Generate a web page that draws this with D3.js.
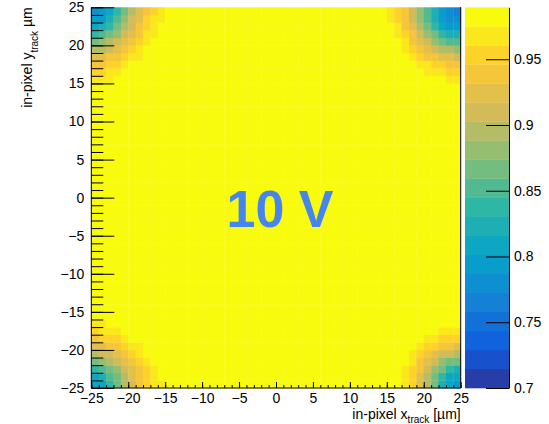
<!DOCTYPE html>
<html>
<head>
<meta charset="utf-8">
<script src="https://cdn.jsdelivr.net/npm/d3@7"></script>
<style>
  body { margin: 0; background: #fff; }
  text { font-family: "Liberation Sans", Arial, Helvetica, sans-serif; }
</style>
</head>
<body>
<svg id="chart" width="549" height="424"></svg>
<script>
// 1 um x 1 um bins over the pixel, 50 x 50
const nBins = 50
const axisTicks = [-25, -20, -15, -10, -5, 0, 5, 10, 15, 20, 25]
const paletteTicks = [0.7, 0.75, 0.8, 0.85, 0.9, 0.95]
const zMin = 0.7
const zMax = 0.9895
const nContours = 20

// efficiency in the flat (yellow) part of the pixel
const flatEff = 0.985

// corners, row 0 = row at the pixel edge, col 0 = column at the pixel edge
const cornerTopLeft = [
  [0.785, 0.790, 0.815, 0.835, 0.870, 0.900, 0.925, 0.945, 0.960, 0.970],
  [0.790, 0.800, 0.820, 0.845, 0.875, 0.905, 0.930, 0.950, 0.965, 0.975],
  [0.810, 0.820, 0.840, 0.860, 0.890, 0.915, 0.935, 0.955, 0.970],
  [0.835, 0.845, 0.860, 0.885, 0.905, 0.925, 0.945, 0.965, 0.975],
  [0.865, 0.875, 0.890, 0.905, 0.920, 0.940, 0.955, 0.970],
  [0.895, 0.900, 0.910, 0.925, 0.940, 0.955, 0.965, 0.980],
  [0.920, 0.925, 0.935, 0.945, 0.955, 0.965, 0.975],
  [0.940, 0.945, 0.950, 0.960, 0.970, 0.978],
  [0.955, 0.960, 0.965, 0.972, 0.980],
  [0.968, 0.970, 0.975]
]
const cornerTopRight = [
  [0.770, 0.775, 0.790, 0.820, 0.850, 0.880, 0.910, 0.935, 0.955, 0.968],
  [0.775, 0.780, 0.795, 0.825, 0.855, 0.885, 0.915, 0.940, 0.958, 0.970],
  [0.790, 0.800, 0.815, 0.840, 0.865, 0.895, 0.920, 0.945, 0.962, 0.978],
  [0.820, 0.825, 0.840, 0.860, 0.885, 0.910, 0.935, 0.955, 0.970],
  [0.850, 0.855, 0.865, 0.885, 0.905, 0.925, 0.945, 0.962, 0.978],
  [0.885, 0.890, 0.900, 0.910, 0.925, 0.940, 0.958, 0.970],
  [0.915, 0.918, 0.925, 0.935, 0.945, 0.958, 0.968, 0.980],
  [0.940, 0.942, 0.948, 0.955, 0.962, 0.970, 0.980],
  [0.958, 0.960, 0.962, 0.968, 0.975],
  [0.970, 0.972, 0.978]
]
const cornerBottomLeft = [
  [0.805, 0.815, 0.840, 0.865, 0.890, 0.915, 0.935, 0.950, 0.965, 0.975],
  [0.815, 0.825, 0.845, 0.870, 0.895, 0.920, 0.940, 0.955, 0.968],
  [0.840, 0.850, 0.865, 0.885, 0.905, 0.925, 0.945, 0.960, 0.975],
  [0.870, 0.875, 0.890, 0.905, 0.920, 0.938, 0.955, 0.968],
  [0.900, 0.905, 0.912, 0.925, 0.938, 0.950, 0.965, 0.978],
  [0.925, 0.928, 0.935, 0.945, 0.955, 0.965, 0.975],
  [0.945, 0.948, 0.952, 0.960, 0.968, 0.978],
  [0.960, 0.962, 0.966, 0.972],
  [0.970, 0.972, 0.978]
]
const cornerBottomRight = [
  [0.795, 0.805, 0.830, 0.860, 0.895, 0.925, 0.950, 0.968],
  [0.805, 0.815, 0.840, 0.870, 0.900, 0.930, 0.952, 0.970],
  [0.830, 0.840, 0.860, 0.885, 0.910, 0.935, 0.958, 0.975],
  [0.865, 0.870, 0.885, 0.905, 0.925, 0.945, 0.965],
  [0.900, 0.905, 0.912, 0.925, 0.940, 0.958, 0.972],
  [0.930, 0.932, 0.938, 0.948, 0.958, 0.970],
  [0.955, 0.957, 0.960, 0.965, 0.972],
  [0.970, 0.972, 0.975]
]

// kBird palette stops (ROOT default)
const birdStops = ["#352a87", "#0f5cdd", "#1481d6", "#06a4ca", "#2eb7a4",
                   "#87bf77", "#d1bb59", "#fec832", "#f9fb0e"]

let svg = d3.select("#chart")

// frame and palette geometry
let frame = {left: 91.3, right: 460.7, top: 7.3, bottom: 388}
let pal = {left: 465, right: 509}

let xscale = d3.scaleLinear().domain([-25, 25]).range([frame.left, frame.right])
let yscale = d3.scaleLinear().domain([-25, 25]).range([frame.bottom, frame.top])
let zscale = d3.scaleLinear().domain([zMin, zMax]).range([frame.bottom, frame.top])

let bird = d3.piecewise(d3.interpolateRgb, birdStops)

// colour of contour band k, same pick as ROOT's THistPainter
function bandColor(k) {
  let idx = Math.floor((k + 0.99) * 255 / nContours)
  return bird(Math.min(idx, 254) / 254)
}
function bandOf(z) {
  let k = Math.floor((z - zMin) * nContours / (zMax - zMin))
  return Math.max(0, Math.min(nContours - 1, k))
}

// build the grid: grid[ix][iy]
let grid = d3.range(nBins).map(() => d3.range(nBins).map(() => flatEff))
cornerTopLeft.forEach((row, i) => row.forEach((v, j) => { grid[j][nBins - 1 - i] = v }))
cornerTopRight.forEach((row, i) => row.forEach((v, j) => { grid[nBins - 1 - j][nBins - 1 - i] = v }))
cornerBottomLeft.forEach((row, i) => row.forEach((v, j) => { grid[j][i] = v }))
cornerBottomRight.forEach((row, i) => row.forEach((v, j) => { grid[nBins - 1 - j][i] = v }))

let cells = []
grid.forEach((col, ix) => col.forEach((z, iy) => {
  cells.push({x0: -25 + ix, y0: -25 + iy, z: z})
}))

//Add the cells
svg.append("g")
  .selectAll("rect")
  .data(cells)
  .enter()
  .append("rect")
  .attr("x", d => xscale(d.x0))
  .attr("y", d => yscale(d.y0 + 1))
  .attr("width", d => xscale(d.x0 + 1) - xscale(d.x0) + 0.4)
  .attr("height", d => yscale(d.y0) - yscale(d.y0 + 1) + 0.4)
  .attr("fill", d => bandColor(bandOf(d.z)))

//Frame lines (no top line)
svg.append("path")
  .attr("d", `M${frame.left},${frame.top}V${frame.bottom}H${frame.right}V${frame.top}`)
  .attr("fill", "none")
  .attr("stroke", "#000")
  .attr("stroke-width", 1)

//Minor ticks y
svg.append("g")
  .attr("transform", `translate(${frame.left},0)`)
  .call(d3.axisLeft(yscale).tickValues(d3.range(-25, 26, 1)).tickSize(-12).tickSizeOuter(0).tickFormat(""))
  .call(g => g.select(".domain").remove())

//Major ticks y with labels
let yAxis = svg.append("g")
  .attr("transform", `translate(${frame.left},0)`)
  .call(d3.axisLeft(yscale).tickValues(axisTicks).tickSize(-23).tickSizeOuter(0).tickPadding(7))
yAxis.select(".domain").remove()
yAxis.selectAll("text").style("font-size", "14px").attr("fill", "#000")
  .style("font-family", "'Liberation Sans', Arial, sans-serif")

//Minor ticks x
svg.append("g")
  .attr("transform", `translate(0,${frame.bottom})`)
  .call(d3.axisBottom(xscale).tickValues(d3.range(-25, 26, 1)).tickSize(-3).tickSizeOuter(0).tickFormat(""))
  .call(g => g.select(".domain").remove())

//Major ticks x with labels
let xAxis = svg.append("g")
  .attr("transform", `translate(0,${frame.bottom})`)
  .call(d3.axisBottom(xscale).tickValues(axisTicks).tickSize(-6).tickSizeOuter(0).tickPadding(5))
xAxis.select(".domain").remove()
xAxis.selectAll("text").style("font-size", "14px").attr("fill", "#000")
  .style("font-family", "'Liberation Sans', Arial, sans-serif")

//Palette bands
let bands = d3.range(nContours).map(k => ({
  lo: zMin + k * (zMax - zMin) / nContours,
  hi: zMin + (k + 1) * (zMax - zMin) / nContours,
  k: k
}))
svg.append("g")
  .selectAll("rect")
  .data(bands)
  .enter()
  .append("rect")
  .attr("x", pal.left)
  .attr("y", d => zscale(d.hi))
  .attr("width", pal.right - pal.left)
  .attr("height", d => zscale(d.lo) - zscale(d.hi) + 0.3)
  .attr("fill", d => bandColor(d.k))

//Palette axis
let zAxis = svg.append("g")
  .attr("transform", `translate(${pal.right},0)`)
  .call(d3.axisRight(zscale).tickValues(paletteTicks).tickSize(-23).tickSizeOuter(0).tickPadding(5)
    .tickFormat(d => String(d)))
zAxis.selectAll("text").style("font-size", "14px").attr("fill", "#000")
  .style("font-family", "'Liberation Sans', Arial, sans-serif")

//x axis title
let xt = svg.append("text")
  .attr("x", frame.right)
  .attr("y", 419)
  .attr("text-anchor", "end")
  .style("font-size", "14px")
xt.append("tspan").text("in-pixel x")
xt.append("tspan").attr("dy", 4).style("font-size", "10px").text("track")
xt.append("tspan").attr("dy", -4).text(" [µm]")

//y axis title
let yt = svg.append("text")
  .attr("transform", "translate(32," + frame.top + ") rotate(-90)")
  .attr("text-anchor", "end")
  .style("font-size", "14px")
yt.append("tspan").text("in-pixel y")
yt.append("tspan").attr("dy", 6).style("font-size", "10px").text("track")
yt.append("tspan").attr("dy", -6).text("  µm")

//Voltage label
svg.append("text")
  .attr("x", 280)
  .attr("y", 227)
  .attr("text-anchor", "middle")
  .style("font-size", "52px")
  .style("font-weight", "bold")
  .attr("fill", "#4585ee")
  .text("10 V")
</script>
</body>
</html>
